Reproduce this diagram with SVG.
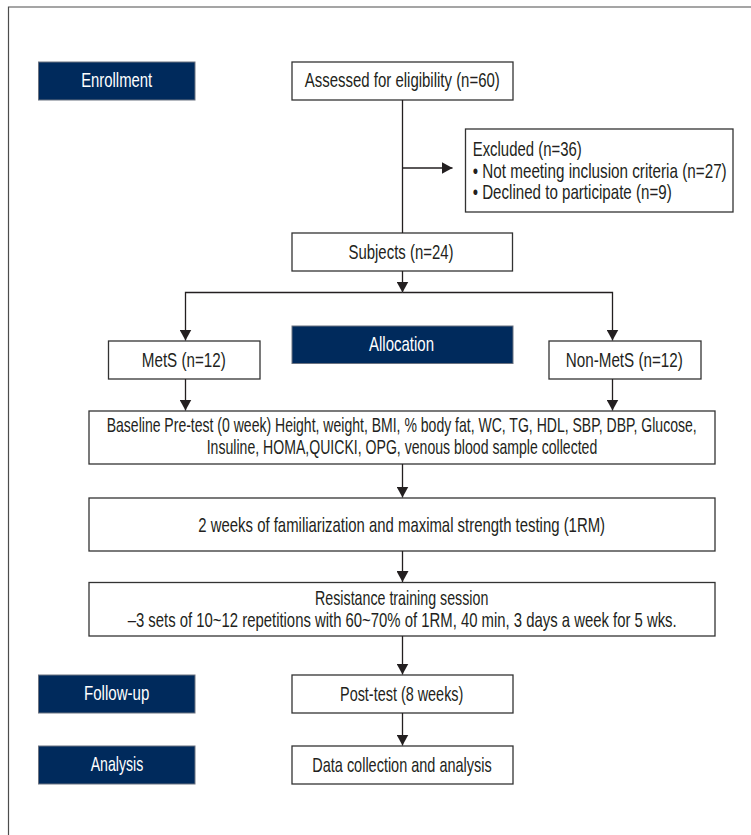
<svg xmlns="http://www.w3.org/2000/svg" width="751" height="835" viewBox="0 0 751 835">
<defs>
<style>
.bg{fill:#ffffff}
.frame{fill:none;stroke:#4d4d4d;stroke-width:1.2}
.box{fill:#ffffff;stroke:#333333;stroke-width:1.3}
.nav{fill:#002a5c;stroke:#6b7280;stroke-width:1}
.t{font-family:"Liberation Sans",Arial,sans-serif;font-size:20px;fill:#231f20}
.w{fill:#ffffff}
.c{text-anchor:middle}
.ln{fill:none;stroke:#231f20;stroke-width:1.3}
</style>
<marker id="ah" markerUnits="userSpaceOnUse" markerWidth="12" markerHeight="12" refX="11" refY="6" orient="auto">
<path d="M0,0 L11,6 L0,12 z" fill="#231f20"/>
</marker>
</defs>
<rect class="bg" x="0" y="0" width="751" height="835"/>
<path class="frame" d="M8.5,835 V7 H751"/>

<g id="enrollment">
<rect class="nav" x="38.5" y="62" width="156.5" height="38"/>
<text class="t w c" transform="scale(0.76,1)" x="153.55" y="87.5" textLength="93.42" lengthAdjust="spacingAndGlyphs">Enrollment</text>
</g>
<g id="assessed">
<rect class="box" x="292" y="62" width="221" height="38"/>
<text class="t c" transform="scale(0.76,1)" x="529.34" y="87.5" textLength="256.58" lengthAdjust="spacingAndGlyphs">Assessed for eligibility (n=60)</text>
</g>
<g id="excluded">
<rect class="box" x="465.5" y="129" width="267.5" height="83"/>
<text class="t" transform="scale(0.76,1)" x="621.97" y="156" textLength="143.42" lengthAdjust="spacingAndGlyphs">Excluded (n=36)</text>
<text class="t" transform="scale(0.76,1)" x="621.97" y="178" textLength="334.21" lengthAdjust="spacingAndGlyphs">• Not meeting inclusion criteria (n=27)</text>
<text class="t" transform="scale(0.76,1)" x="621.97" y="199.5" textLength="261.84" lengthAdjust="spacingAndGlyphs">• Declined to participate (n=9)</text>
</g>
<g id="subjects">
<rect class="box" x="292" y="233" width="220.5" height="38"/>
<text class="t c" transform="scale(0.76,1)" x="527.63" y="259" textLength="138.16" lengthAdjust="spacingAndGlyphs">Subjects (n=24)</text>
</g>
<g id="allocation">
<rect class="nav" x="292" y="326" width="221" height="37.5"/>
<text class="t w c" transform="scale(0.76,1)" x="528.29" y="351.5" textLength="85.53" lengthAdjust="spacingAndGlyphs">Allocation</text>
</g>
<g id="mets">
<rect class="box" x="108.5" y="341" width="151.5" height="38"/>
<text class="t c" transform="scale(0.76,1)" x="241.84" y="367.3" textLength="110.53" lengthAdjust="spacingAndGlyphs">MetS (n=12)</text>
</g>
<g id="nonmets">
<rect class="box" x="549" y="341" width="152" height="38"/>
<text class="t c" transform="scale(0.76,1)" x="821.45" y="367.3" textLength="153.95" lengthAdjust="spacingAndGlyphs">Non-MetS (n=12)</text>
</g>
<g id="baseline">
<rect class="box" x="89" y="411" width="626" height="53"/>
<text class="t c" transform="scale(0.76,1)" x="528.55" y="432.5" textLength="776.32" lengthAdjust="spacingAndGlyphs">Baseline Pre-test (0 week) Height, weight, BMI, % body fat, WC, TG, HDL, SBP, DBP, Glucose,</text>
<text class="t c" transform="scale(0.76,1)" x="528.95" y="454.5" textLength="513.95" lengthAdjust="spacingAndGlyphs">Insuline, HOMA,QUICKI, OPG, venous blood sample collected</text>
</g>
<g id="familiarization">
<rect class="box" x="89" y="498" width="626" height="53"/>
<text class="t c" transform="scale(0.76,1)" x="528.55" y="531.7" textLength="535.13" lengthAdjust="spacingAndGlyphs">2 weeks of familiarization and maximal strength testing (1RM)</text>
</g>
<g id="resistance">
<rect class="box" x="89" y="582.5" width="626" height="53.5"/>
<text class="t c" transform="scale(0.76,1)" x="528.55" y="605" textLength="228.03" lengthAdjust="spacingAndGlyphs">Resistance training session</text>
<text class="t c" transform="scale(0.76,1)" x="529.21" y="627" textLength="722.37" lengthAdjust="spacingAndGlyphs">–3 sets of 10~12 repetitions with 60~70% of 1RM, 40 min, 3 days a week for 5 wks.</text>
</g>
<g id="followup">
<rect class="nav" x="38.5" y="675" width="156.5" height="38"/>
<text class="t w c" transform="scale(0.76,1)" x="153.55" y="700.3" textLength="85.92" lengthAdjust="spacingAndGlyphs">Follow-up</text>
</g>
<g id="posttest">
<rect class="box" x="292" y="675" width="221" height="38"/>
<text class="t c" transform="scale(0.76,1)" x="528.55" y="701" textLength="162.24" lengthAdjust="spacingAndGlyphs">Post-test (8 weeks)</text>
</g>
<g id="analysis">
<rect class="nav" x="38.5" y="746" width="156.5" height="38"/>
<text class="t w c" transform="scale(0.76,1)" x="153.95" y="771.3" textLength="69.21" lengthAdjust="spacingAndGlyphs">Analysis</text>
</g>
<g id="datacollection">
<rect class="box" x="292" y="746" width="221" height="38"/>
<text class="t c" transform="scale(0.76,1)" x="528.95" y="772" textLength="236.05" lengthAdjust="spacingAndGlyphs">Data collection and analysis</text>
</g>

<g id="connectors">
<path class="ln" d="M402.5,100 V233"/>
<path class="ln" d="M402.5,168 H452.5" marker-end="url(#ah)"/>
<path class="ln" d="M402.5,271 V292.5" marker-end="url(#ah)"/>
<path class="ln" d="M402.5,292.5 H185.5 V340.5" marker-end="url(#ah)"/>
<path class="ln" d="M402.5,292.5 H612.5 V340.5" marker-end="url(#ah)"/>
<path class="ln" d="M185.5,379 V410.5" marker-end="url(#ah)"/>
<path class="ln" d="M612.5,379 V410.5" marker-end="url(#ah)"/>
<path class="ln" d="M402.5,464 V497.5" marker-end="url(#ah)"/>
<path class="ln" d="M402.5,551 V582" marker-end="url(#ah)"/>
<path class="ln" d="M402.5,636 V674.5" marker-end="url(#ah)"/>
<path class="ln" d="M402.5,713 V745.5" marker-end="url(#ah)"/>
</g>
</svg>
